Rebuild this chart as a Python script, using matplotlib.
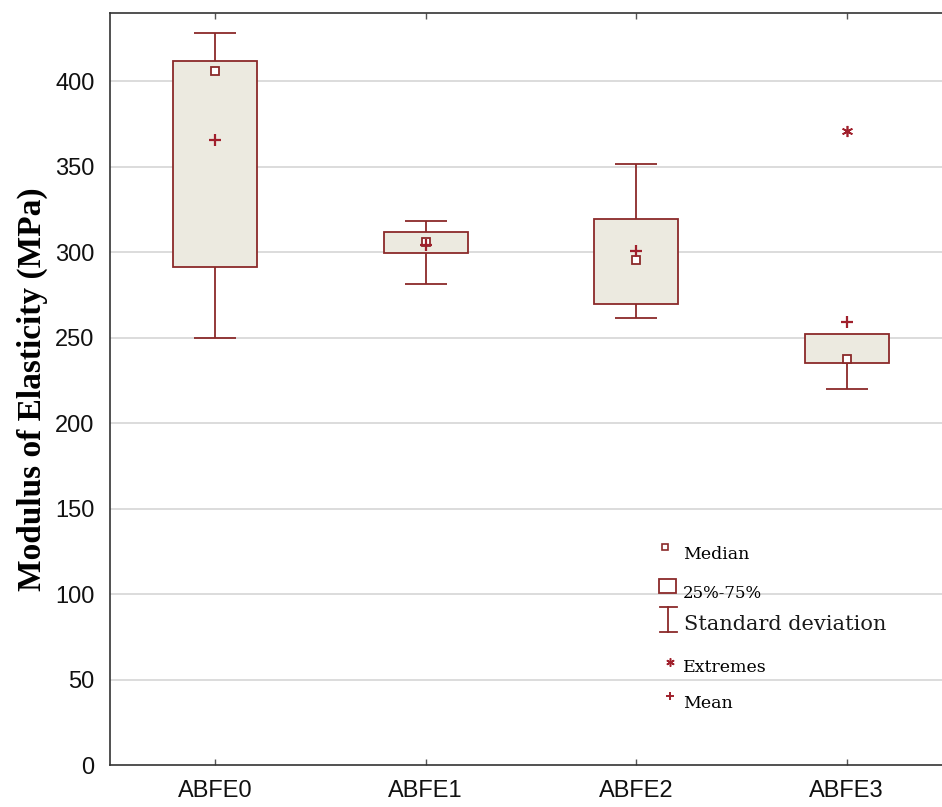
import matplotlib
matplotlib.use("Agg")
import matplotlib.pyplot as plt
from matplotlib.patches import Rectangle

# Summary statistics per sample group (MPa)
groups = ["ABFE0", "ABFE1", "ABFE2", "ABFE3"]
median = [405.9, 306.0, 295.7, 237.8]
q1 = [291.4, 299.4, 269.8, 235.3]
q3 = [411.8, 312.0, 319.2, 252.0]
whisker_low = [250.0, 281.4, 261.4, 220.2]
whisker_high = [428.4, 318.2, 351.6, 252.0]
mean = [365.9, 304.5, 300.6, 259.0]
extreme_group = [3]
extreme_value = [370.8]
yticks = [0, 50, 100, 150, 200, 250, 300, 350, 400]

EDGE = "#8B2A2A"
FILL = "#ECEAE0"
MARK = "#A0202C"
GRID = "#DCDCDC"

sans = ["Liberation Sans", "DejaVu Sans"]
serif = ["Liberation Serif", "DejaVu Serif"]
key_font = ["DejaVu Serif"]

fig = plt.figure(figsize=(9.42, 8.07), dpi=100)
ax = fig.add_axes([110 / 942, 42 / 807, 842 / 942, 752 / 807])

x = list(range(len(groups)))
box_w = 0.4
cap_w = 0.2

# grid
for t in yticks[1:]:
    ax.axhline(t, color=GRID, lw=1.4, zorder=0)

# whiskers (drawn under the boxes)
for i in x:
    ax.vlines(i, whisker_low[i], whisker_high[i], color=EDGE, lw=1.3, zorder=2)
    caps = [v for v, q in ((whisker_low[i], q1[i]), (whisker_high[i], q3[i])) if v != q]
    ax.hlines(caps, i - cap_w / 2, i + cap_w / 2, color=EDGE, lw=1.3, zorder=2)

# boxes
ax.bar(x, [b - a for a, b in zip(q1, q3)], bottom=q1, width=box_w,
       color=FILL, edgecolor=EDGE, linewidth=1.3, zorder=3)

# medians and means
ax.plot(x, median, ls="none", marker="s", ms=6, mfc="white", mec=EDGE, mew=1.3, zorder=4)
ax.plot(x, mean, ls="none", marker="+", ms=8, mec=MARK, mew=1.6, zorder=5)

# extremes
ax.plot(extreme_group, extreme_value, ls="none", marker=(6, 2, 0), ms=8, mec=MARK, mew=1.2, zorder=5)

ax.set_xlim(-0.5, 3.5)
ax.set_ylim(0, 440)
ax.set_xticks(x)
ax.set_xticklabels(groups, family=sans, fontsize=17, color="#111111")
ax.set_yticks(yticks)
ax.set_yticklabels([str(t) for t in yticks], family=sans, fontsize=17, color="#111111")
ax.tick_params(axis="x", direction="in", length=4, top=True, width=1, color="#555555", pad=11)
ax.tick_params(axis="y", length=0, pad=11)
for s in ["left", "bottom", "top", "right"]:
    ax.spines[s].set_color("#333333")
    ax.spines[s].set_linewidth(1.2)

ax.set_ylabel("Modulus of Elasticity (MPa)", family=serif, fontweight="bold",
              fontsize=24, labelpad=5)

# key
T = ax.transAxes
ax.plot([0.6591], [0.2899], transform=T, ls="none", marker="s", ms=5, mfc="white",
        mec=EDGE, mew=1.2, clip_on=False)
ax.text(0.6805, 0.2739, "Median", transform=T, family=key_font, fontsize=12.5, va="baseline")
ax.add_patch(Rectangle((0.6520, 0.2287), 0.0202, 0.0180, transform=T, fill=False,
                       ec=EDGE, lw=1.3))
ax.text(0.6805, 0.2221, "25%-75%", transform=T, family=key_font, fontsize=12, va="baseline")
ax.plot([0.6633, 0.6633], [0.1769, 0.2101], transform=T, color=EDGE, lw=1.3)
ax.plot([0.6532, 0.6734], [0.1769, 0.1769], transform=T, color=EDGE, lw=1.3)
ax.plot([0.6532, 0.6734], [0.2101, 0.2101], transform=T, color=EDGE, lw=1.3)
ax.text(0.6817, 0.1795, "Standard deviation", transform=T, family=key_font, fontsize=15,
        va="baseline", color="#1a1a1a")
ax.plot([0.6651], [0.1370], transform=T, ls="none", marker=(6, 2, 0), ms=6, mec=MARK, mew=1.1)
ax.text(0.6805, 0.1237, "Extremes", transform=T, family=key_font, fontsize=12.5, va="baseline")
ax.plot([0.6651], [0.0918], transform=T, ls="none", marker="+", ms=6, mec=MARK, mew=1.4)
ax.text(0.6805, 0.0758, "Mean", transform=T, family=key_font, fontsize=12.5, va="baseline")

fig.savefig("out.png", dpi=100)
